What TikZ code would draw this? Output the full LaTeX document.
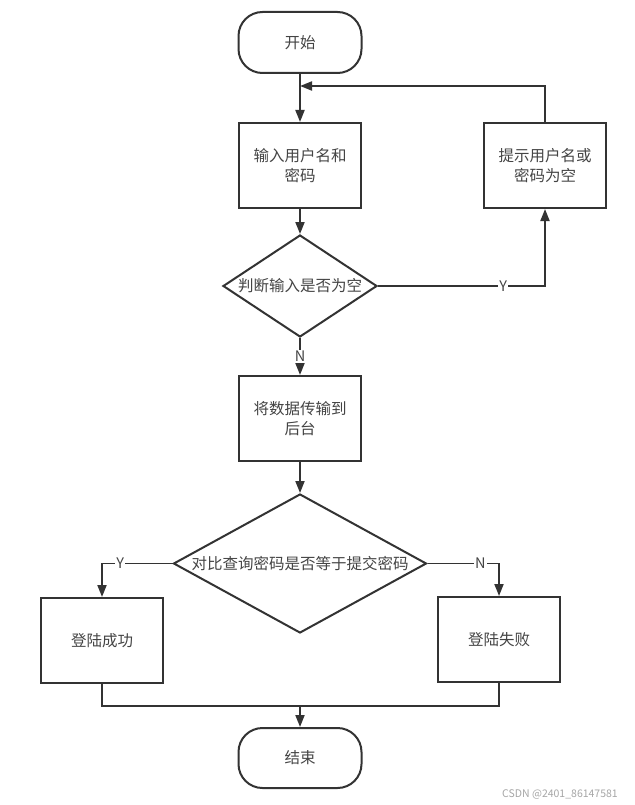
\documentclass[tikz,border=0pt]{standalone}
\usepackage{fontspec}
\newfontfamily\cjk{Noto Sans CJK SC}
\usetikzlibrary{shapes.geometric,arrows.meta}
\definecolor{ln}{HTML}{333333}
\definecolor{tx}{HTML}{444444}
\begin{document}
\begin{tikzpicture}[x=1pt,y=-1pt,
  every node/.style={font=\cjk\fontsize{15.5}{20}\selectfont, text=tx},
  proc/.style={draw=ln, line width=2pt, rectangle, minimum width=122pt, minimum height=85pt, inner sep=0pt, align=center},
  term/.style={draw=ln, line width=2pt, rectangle, rounded corners=24pt, minimum width=123pt, minimum height=61pt, inner sep=0pt},
  dec/.style={draw=ln, line width=2pt, diamond, inner sep=0pt},
  conn/.style={draw=ln, line width=1.8pt},
  arr/.style={conn, -{Triangle[length=12pt,width=9pt]}},
  lab/.style={fill=white, inner sep=1pt, font=\cjk\fontsize{14.5}{16}\selectfont}
]
\useasboundingbox (0,0) rectangle (634,805);
\fill[white] (0,0) rectangle (634,805);

\node[term] (start) at (300,42.5) {开始};
\node[proc] (input) at (300,165.5) {输入用户名和\\密码};
\node[proc] (hint) at (545,165.5) {提示用户名或\\密码为空};
\node[dec, minimum width=154pt, minimum height=102pt] (d1) at (300,286) {};
\node (d1t) at (d1.center) {判断输入是否为空};
\node[proc] (send) at (300,418.5) {将数据传输到\\后台};
\node[dec, minimum width=253pt, minimum height=139pt] (d2) at (300,563.5) {};
\node (d2t) at (d2.center) {对比查询密码是否等于提交密码};
\node[proc] (ok) at (102,640.5) {登陆成功};
\node[proc] (fail) at (499,639.5) {登陆失败};
\node[term, minimum height=60pt] (stop) at (300,758) {结束};

\coordinate (loopR) at (hint.north |- 0,86);
\coordinate (loopL) at (input.north |- 0,86);
\coordinate (y1) at (hint.south |- d1.east);
\coordinate (yl) at (ok.north |- d2.west);
\coordinate (nr) at (fail.north |- d2.east);
\coordinate (mL) at (ok.south |- 0,706);
\coordinate (mR) at (fail.south |- 0,706);
\coordinate (mC) at (stop.north |- 0,706);

\draw[arr] (start.south) -- (input.north);
\draw[arr] (hint.north) -- (loopR) -- (loopL);
\draw[arr] (input.south) -- (d1.north);
\draw[arr] (d1.east) -- node[lab, pos=0.75] (ylab1) {Y} (y1) -- (hint.south);
\draw[arr] (d1.south) -- node[lab, pos=0.5] (nlab1) {N} (send.north);
\draw[arr] (send.south) -- (d2.north);
\draw[arr] (d2.west) -- node[lab, pos=0.74] (ylab2) {Y} (yl) -- (ok.north);
\draw[arr] (d2.east) -- node[lab, pos=0.74] (nlab2) {N} (nr) -- (fail.north);
\draw[conn] (ok.south) -- (mL) -- (mR) -- (fail.south);
\draw[arr] (mC) -- (stop.north);

\node[anchor=east, text=gray!70, font=\cjk\fontsize{10.5}{12}\selectfont, inner sep=0pt] (wm) at (618,794) {CSDN @2401\_86147581};
\end{tikzpicture}
\end{document}
